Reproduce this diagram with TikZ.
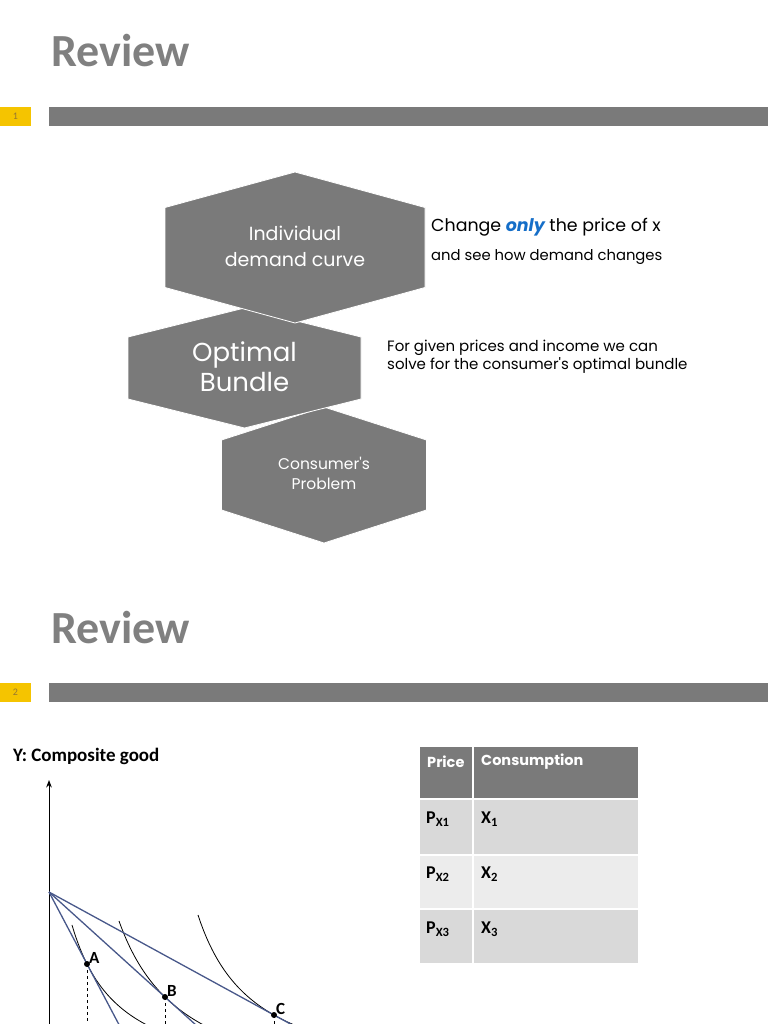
\documentclass[tikz,border=0pt]{standalone}
\usepackage{fontspec}
\setmainfont{Carlito}
\newfontfamily\gothic{Poppins}
\usetikzlibrary{arrows.meta, positioning, calc}

\definecolor{slidegray}{RGB}{122,122,122}
\definecolor{titlegray}{RGB}{128,128,128}
\definecolor{tabyellow}{RGB}{245,196,0}
\definecolor{tabnum}{RGB}{150,120,50}
\definecolor{rowdark}{RGB}{217,217,217}
\definecolor{rowlight}{RGB}{236,236,236}
\definecolor{budget}{RGB}{72,88,138}
\definecolor{onlyblue}{RGB}{21,110,200}

% name, cx, cy, half width, half height, half side
\newcommand{\hexcell}[6]{%
  \filldraw[hexfill] (#2-#4,#3-#6) -- (#2,#3-#5) -- (#2+#4,#3-#6)
    -- (#2+#4,#3+#6) -- (#2,#3+#5) -- (#2-#4,#3+#6) -- cycle;
  \coordinate (#1) at (#2,#3);}

\begin{document}
\begin{tikzpicture}[
    x=1pt, y=-1pt,
    >=Stealth,
    hexfill/.style={fill=slidegray, draw=white, line width=0.8pt},
    hextext/.style={text=white, align=center, inner sep=0pt},
    title/.style={anchor=base west, inner sep=0pt, text=titlegray,
                  font=\fontsize{46}{50}\selectfont\bfseries},
    tabnumber/.style={text=tabnum, font=\fontsize{10}{10}\selectfont, inner sep=0pt},
    note/.style={anchor=west, inner sep=0pt, align=left,
                 font=\gothic\fontsize{15}{18}\selectfont},
    cellhead/.style={anchor=west, inner sep=0pt, text=white,
                     font=\gothic\bfseries\fontsize{14.5}{14.5}\selectfont},
    cell/.style={anchor=west, inner sep=0pt,
                 font=\bfseries\fontsize{18}{18}\selectfont},
    ptlabel/.style={anchor=south west, inner sep=1pt,
                    font=\bfseries\fontsize{17}{17}\selectfont},
    budgetline/.style={budget, line width=1.3pt},
    icurve/.style={black, line width=0.8pt}
  ]
  \useasboundingbox (0,0) rectangle (768,1024);

  % slide 1 header
  \node[title] (title1) at (51,67) {Review};
  \fill[tabyellow] (0,107) rectangle (31,126);
  \fill[slidegray] (49,107) rectangle (768,126);
  \node[tabnumber] (tab1) at (15.5,116.5) {1};

  % hexagons, bottom one first
  \hexcell{hexproblem}{324}{475}{102.5}{68}{35}
  \hexcell{hexbundle}{244.5}{368}{116.5}{60}{31}
  \hexcell{hexdemand}{295}{247.5}{130}{75.5}{40}

  \node[hextext, font=\gothic\fontsize{19}{26}\selectfont] (demand)
    at ($(hexdemand)+(0,-1)$) {Individual\\demand curve};
  \node[hextext, font=\gothic\fontsize{26}{30}\selectfont] (bundle)
    at ($(hexbundle)+(0,-1)$) {Optimal\\Bundle};
  \node[hextext, font=\gothic\fontsize{15.5}{20}\selectfont] (problem)
    at ($(hexproblem)+(0,-2)$) {Consumer's\\Problem};

  \node[note, font=\gothic\fontsize{17.4}{18}\selectfont] (change) at (431,227)
    {Change {\color{onlyblue}\bfseries\itshape only} the price of x};
  \node[note, font=\gothic\fontsize{14.8}{18}\selectfont] (see) at (431,257)
    {and see how demand changes};
  \node[note] (given) at (387,357)
    {For given prices and income we can\\solve for the consumer's optimal bundle};

  % slide 2 header
  \node[title] (title2) at (51,643) {Review};
  \fill[tabyellow] (0,683) rectangle (31,702);
  \fill[slidegray] (49,683) rectangle (768,702);
  \node[tabnumber] (tab2) at (15.5,692.5) {2};

  % table
  \fill[slidegray] (420,747) rectangle (638,798);
  \fill[rowdark] (420,800) rectangle (638,854);
  \fill[rowlight] (420,856) rectangle (638,908);
  \fill[rowdark] (420,910) rectangle (638,963);
  \draw[white, line width=1.5pt] (473,747) -- (473,963);
  \node[cellhead] (price) at (427,762) {Price};
  \node[cellhead] (consumption) at (481,762) {Consumption};
  \foreach \i/\y in {1/819, 2/874, 3/929} {
    \node[cell] (p\i) at (426,\y) {P\textsubscript{X\i}};
    \node[cell] (x\i) at (481,\y) {X\textsubscript{\i}};
  }

  % graph
  \node[anchor=west, inner sep=0pt, font=\bfseries\fontsize{19}{19}\selectfont]
    (ylabel) at (13,756) {Y: Composite good};
  \coordinate (yint) at (49,892);
  \coordinate (A) at (87,964);
  \coordinate (B) at (165,997);
  \coordinate (C) at (274,1015);
  \begin{scope}
    \clip (0,730) rectangle (768,1024);
    \draw[->, line width=1pt] (49,1030) -- (49,780);
    \draw[icurve] plot[domain=72:150, samples=40]
      (\x, {1089.4 - 7931.8/(\x-23.76)});
    \draw[icurve] plot[domain=119:215, samples=40]
      (\x, {1106.4 - 12272/(\x-52.8)});
    \draw[icurve] plot[domain=198:310, samples=40]
      (\x, {1090.8 - 10125/(\x-140.4)});
    \draw[budgetline] (yint) -- ($(yint)!1.9!(A)$);
    \draw[budgetline] (yint) -- ($(yint)!1.3!(B)$);
    \draw[budgetline] (yint) -- ($(yint)!1.2!(C)$);
    \foreach \p in {A, B, C} {
      \draw[dashed, line width=0.6pt] (\p) -- ($(\p)+(0,60)$);
      \fill (\p) circle (3);
    }
  \end{scope}
  \node[ptlabel] (labA) at ($(A)+(1,1)$) {A};
  \node[ptlabel] (labB) at ($(B)+(1,1)$) {B};
  \node[ptlabel] (labC) at ($(C)+(1,1)$) {C};
\end{tikzpicture}
\end{document}
